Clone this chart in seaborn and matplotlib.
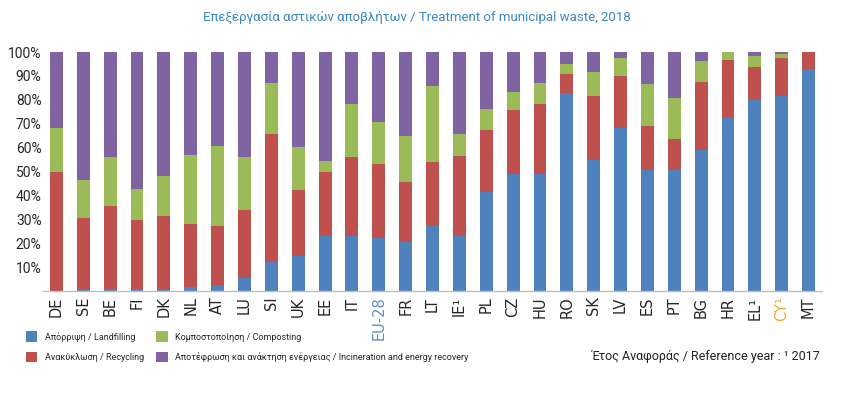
import numpy as np
import pandas as pd
import matplotlib
matplotlib.use("Agg")
import matplotlib.pyplot as plt
import seaborn as sns
from matplotlib.patches import Patch

# ---- data (shares in %) ----
countries = ["DE", "SE", "BE", "FI", "DK", "NL", "AT", "LU", "SI", "UK", "EE", "IT",
             "EU-28", "FR", "LT", "IE¹", "PL", "CZ", "HU", "RO", "SK", "LV", "ES",
             "PT", "BG", "HR", "EL¹", "CY¹", "MT"]
landfilling = [0.2, 0.7, 1.0, 1.0, 1.0, 1.5, 2.4, 5.6, 12.3, 14.8, 23.2, 23.2,
               22.3, 20.7, 27.4, 23.2, 41.5, 49.0, 49.0, 82.7, 55.0, 68.3, 50.8,
               50.8, 59.2, 72.5, 79.9, 81.8, 92.7]
recycling = [49.7, 29.9, 34.6, 28.6, 30.4, 26.6, 24.8, 28.3, 53.5, 27.5, 26.7, 32.7,
             30.8, 24.8, 26.7, 33.4, 25.8, 26.7, 29.4, 8.1, 26.6, 21.8, 18.2,
             12.6, 28.2, 24.1, 14.0, 15.5, 7.3]
composting = [18.4, 16.0, 20.3, 13.0, 16.9, 28.6, 33.6, 22.0, 21.1, 17.8, 4.4, 22.5,
              17.7, 19.3, 31.7, 9.3, 8.7, 7.7, 8.5, 4.2, 10.0, 7.4, 17.7,
              17.5, 8.7, 3.4, 4.6, 1.7, 0.0]
incineration = [31.7, 53.4, 44.1, 57.4, 51.7, 43.3, 39.2, 44.1, 13.1, 39.9, 45.7, 21.6,
                29.2, 35.2, 14.2, 34.1, 24.0, 16.6, 13.1, 5.0, 8.4, 2.5, 13.3,
                19.1, 3.9, 0.0, 1.5, 1.0, 0.0]

series_names = ["Απόρριψη / Landfilling", "Ανακύκλωση / Recycling",
                "Κομποστοποίηση / Composting",
                "Αποτέφρωση και ανάκτηση ενέργειας / Incineration and energy recovery"]
colors = ["#4f81bd", "#c0504d", "#9bbb59", "#8064a2"]

sns.set_style("white")
plt.rcParams["font.family"] = ["Roboto", "DejaVu Sans"]

df = pd.DataFrame({"country": countries})
df["lvl1"] = np.array(landfilling)
df["lvl2"] = df["lvl1"] + np.array(recycling)
df["lvl3"] = df["lvl2"] + np.array(composting)
df["lvl4"] = df["lvl3"] + np.array(incineration)

fig = plt.figure(figsize=(8.5, 3.94), dpi=100)
ax = fig.add_axes([0.0506, 0.2614, 0.9165, 0.6066])

# stacked bars: draw cumulative totals from the top layer down
for col, color in zip(["lvl4", "lvl3", "lvl2", "lvl1"], colors[::-1]):
    sns.barplot(data=df, x="country", y=col, color=color, saturation=1,
                width=0.48, errorbar=None, linewidth=0, ax=ax)

ax.set_ylim(0, 100)
ax.set_xlim(-0.5, len(countries) - 0.5)
ax.set_yticks(range(10, 101, 10))
ax.set_yticklabels([f"{v}%" for v in range(10, 101, 10)], fontsize=10)
ax.tick_params(axis="y", length=0, pad=1)
ax.tick_params(axis="x", length=0, pad=4)
ax.set_xticks(range(len(countries)))
ax.set_xticklabels(countries, rotation=90, fontsize=10.5, family=["DejaVu Sans"])
for lbl in ax.get_xticklabels():
    if lbl.get_text() == "EU-28":
        lbl.set_color("#5b8fc9")
    elif lbl.get_text() == "CY¹":
        lbl.set_color("#f0a830")
ax.set_xlabel("")
ax.set_ylabel("")
for side in ["left", "top", "right"]:
    ax.spines[side].set_visible(False)
ax.spines["bottom"].set_color("#bfbfbf")
ax.spines["bottom"].set_linewidth(1)

fig.text(0.49, 0.955, "Επεξεργασία αστικών αποβλήτων / Treatment of municipal waste, 2018",
         ha="center", va="center", fontsize=9.5, color="#3b87c4")

handles = [Patch(facecolor=c, edgecolor="none") for c in colors]
fig.legend(handles, series_names, ncol=2, loc="upper left",
           bbox_to_anchor=(0.026, 0.168), frameon=False, fontsize=6.5,
           handlelength=1.3, handleheight=1.4, handletextpad=0.8,
           columnspacing=1.4, labelspacing=1.1, borderaxespad=0)

fig.text(0.965, 0.095, "Έτος Αναφοράς / Reference year : ¹ 2017",
         ha="right", va="center", fontsize=9, color="#222222")

fig.savefig("out.png", dpi=100)
